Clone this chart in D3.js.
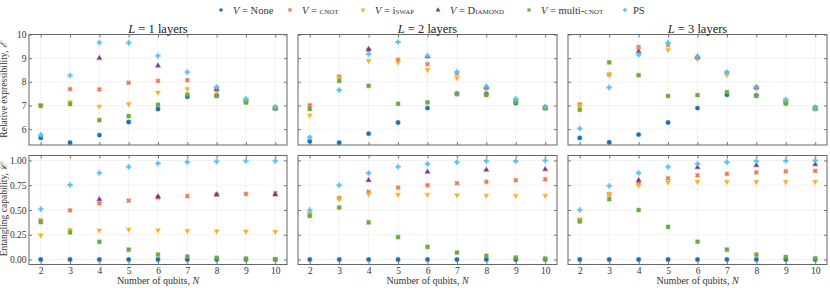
<!DOCTYPE html>
<html>
<head>
<meta charset="utf-8">
<script src="https://cdn.jsdelivr.net/npm/d3@7"></script>
<style>
  body { margin: 0; background: #fff; }
  svg  { font-family: 'Liberation Serif', 'DejaVu Serif', serif; }
  .tick text { font-size: 9.5px; fill: #333; }
  .sc { font-variant: small-caps; }
</style>
</head>
<body>
<svg id="chart" width="830" height="288"></svg>
<script>
// Number of qubits on the x axis.
const qubits = [ 2, 3, 4, 5, 6, 7, 8, 9, 10 ];
const layers = [ 1, 2, 3 ];

// Series keys, in drawing order.
const seriesKeys = [ 'none', 'cnot', 'iswap', 'diamond', 'mcnot', 'ps' ];

// Relative expressibility, one array per layer count.
const exprNone    = [ [ 5.63, 5.43, 5.75, 6.30, 6.85, 7.37, 7.42, 7.15, 6.88 ],
                      [ 5.49, 5.43, 5.81, 6.28, 6.89, 7.50, 7.49, 7.10, 6.90 ],
                      [ 5.63, 5.45, 5.77, 6.28, 6.89, 7.45, 7.42, 7.12, 6.88 ] ];
const exprCnot    = [ [ 7.00, 7.69, 7.68, 7.96, 8.04, 8.07, 7.72, 7.20, 6.90 ],
                      [ 7.01, 8.22, 9.35, 8.93, 8.75, 8.35, 7.75, 7.20, 6.92 ],
                      [ 7.04, 8.31, 9.47, 9.56, 9.02, 8.37, 7.75, 7.20, 6.90 ] ];
const exprIswap   = [ [ 7.00, 7.15, 6.96, 7.06, 7.55, 7.70, 7.58, 7.18, 6.90 ],
                      [ 6.58, 8.17, 8.89, 8.82, 8.51, 8.16, 7.68, 7.18, 6.90 ],
                      [ 6.99, 8.31, 9.40, 9.35, 8.97, 8.30, 7.74, 7.18, 6.89 ] ];
const exprDiamond = [ [ null, null, 9.00, null, 8.68, null, 7.69, null, 6.90 ],
                      [ null, null, 9.38, null, 9.07, null, 7.77, null, 6.92 ],
                      [ null, null, 9.28, null, 9.05, null, 7.76, null, 6.90 ] ];
const exprMcnot   = [ [ 6.99, 7.06, 6.38, 6.55, 7.03, 7.46, 7.40, 7.13, 6.87 ],
                      [ 6.85, 8.04, 7.83, 7.07, 7.13, 7.48, 7.44, 7.14, 6.88 ],
                      [ 6.82, 8.82, 8.28, 7.40, 7.44, 7.56, 7.41, 7.08, 6.85 ] ];
const exprPs      = [ [ 5.76, 8.27, 9.66, 9.65, 9.10, 8.41, 7.78, 7.28, 6.93 ],
                      [ 5.65, 7.65, 9.17, 9.68, 9.09, 8.42, 7.79, 7.28, 6.93 ],
                      [ 6.03, 7.76, 9.15, 9.66, 9.06, 8.41, 7.76, 7.25, 6.90 ] ];

// Entangling capability, one array per layer count.
const entNone     = [ [ 0, 0, 0, 0, 0, 0, 0, 0, 0 ],
                      [ 0, 0, 0, 0, 0, 0, 0, 0, 0 ],
                      [ 0, 0, 0, 0, 0, 0, 0, 0, 0 ] ];
const entCnot     = [ [ 0.395, 0.497, 0.568, 0.595, 0.625, 0.640, 0.655, 0.662, 0.670 ],
                      [ 0.450, 0.620, 0.682, 0.726, 0.750, 0.770, 0.784, 0.800, 0.810 ],
                      [ 0.400, 0.660, 0.770, 0.820, 0.850, 0.865, 0.880, 0.890, 0.895 ] ];
const entIswap    = [ [ 0.246, 0.300, 0.294, 0.304, 0.297, 0.290, 0.287, 0.284, 0.280 ],
                      [ 0.467, 0.610, 0.660, 0.655, 0.655, 0.650, 0.645, 0.645, 0.645 ],
                      [ 0.405, 0.660, 0.750, 0.780, 0.785, 0.785, 0.785, 0.785, 0.785 ] ];
const entDiamond  = [ [ null, null, 0.608, null, 0.635, null, 0.655, null, 0.655 ],
                      [ null, null, 0.801, null, 0.885, null, 0.905, null, 0.910 ],
                      [ null, null, 0.800, null, 0.930, null, 0.950, null, 0.960 ] ];
const entMcnot    = [ [ 0.378, 0.274, 0.179, 0.100, 0.050, 0.030, 0.017, 0.010, 0.003 ],
                      [ 0.440, 0.525, 0.375, 0.226, 0.128, 0.070, 0.037, 0.020, 0.010 ],
                      [ 0.385, 0.610, 0.500, 0.330, 0.180, 0.100, 0.050, 0.026, 0.013 ] ];
const entPs       = [ [ 0.510, 0.753, 0.875, 0.936, 0.970, 0.983, 0.990, 0.995, 0.995 ],
                      [ 0.500, 0.750, 0.872, 0.936, 0.966, 0.983, 0.993, 0.993, 1.000 ],
                      [ 0.500, 0.743, 0.875, 0.936, 0.966, 0.983, 0.993, 0.996, 1.000 ] ];

const exprTicks = [ 6, 7, 8, 9, 10 ];
const entTicks  = [ 0, 0.25, 0.5, 0.75, 1 ];

const exprData = { none: exprNone, cnot: exprCnot, iswap: exprIswap, diamond: exprDiamond, mcnot: exprMcnot, ps: exprPs };
const entData  = { none: entNone,  cnot: entCnot,  iswap: entIswap,  diamond: entDiamond,  mcnot: entMcnot,  ps: entPs  };

// Look of each series.
const colors = { none: '#1a70b8', cnot: '#ea7450', iswap: '#f4b222', diamond: '#7a3592', mcnot: '#6caa3c', ps: '#52c2f0' };
const shapes = {
  none   : { type: d3.symbolCircle,   rot: 0,   size: 15 },
  cnot   : { type: d3.symbolCross,    rot: 45,  size: 12 },
  iswap  : { type: d3.symbolTriangle, rot: 180, size: 11 },
  diamond: { type: d3.symbolTriangle, rot: 0,   size: 11 },
  mcnot  : { type: d3.symbolSquare,   rot: 0,   size: 15 },
  ps     : { type: d3.symbolCross,    rot: 0,   size: 13 }
};

const svg = d3.select( '#chart' );

// Panel frames.
const cols = [ [ 29, 287 ], [ 298, 557 ], [ 568, 827 ] ];
const rows = [ { y: [ 34.5, 145 ], domain: [ 5.33, 10 ], data: exprData, ticks: exprTicks, fmt: d3.format( 'd' ) },
               { y: [ 155.5, 264.5 ], domain: [ -0.05, 1.05 ], data: entData, ticks: entTicks, fmt: d3.format( '.2f' ) } ];

const x = cols.map( c => d3.scaleLinear( ).domain( [ 1.6, 10.4 ] ).range( c ) );

rows.forEach( ( row, ri ) => {
  const y = d3.scaleLinear( ).domain( row.domain ).range( [ row.y[1], row.y[0] ] );

  layers.forEach( ( L, li ) => {
    const g = svg.append( 'g' );
    const xs = x[li];

    // Grid.
    g.selectAll( '.gx' ).data( qubits ).enter( ).append( 'line' )
      .attr( 'x1', d => xs( d ) ).attr( 'x2', d => xs( d ) )
      .attr( 'y1', row.y[0] ).attr( 'y2', row.y[1] )
      .attr( 'stroke', '#ededed' ).attr( 'stroke-width', 0.7 );
    g.selectAll( '.gy' ).data( row.ticks ).enter( ).append( 'line' )
      .attr( 'y1', d => y( d ) ).attr( 'y2', d => y( d ) )
      .attr( 'x1', cols[li][0] ).attr( 'x2', cols[li][1] )
      .attr( 'stroke', '#ededed' ).attr( 'stroke-width', 0.7 );

    // Axes, ticks pointing in on every side.
    const bottom = d3.axisBottom( xs ).tickValues( qubits ).tickSize( -3 ).tickPadding( 3 );
    const top    = d3.axisTop( xs ).tickValues( qubits ).tickSize( -3 ).tickFormat( '' );
    const left   = d3.axisLeft( y ).tickValues( row.ticks ).tickSize( -3 ).tickPadding( 2.5 ).tickFormat( row.fmt );
    const right  = d3.axisRight( y ).tickValues( row.ticks ).tickSize( -3 ).tickFormat( '' );
    if ( ri === 0 ) bottom.tickFormat( '' );
    if ( li > 0 ) left.tickFormat( '' );

    [ [ bottom, `translate(0,${row.y[1]})` ], [ top, `translate(0,${row.y[0]})` ],
      [ left, `translate(${cols[li][0]},0)` ], [ right, `translate(${cols[li][1]},0)` ] ]
      .forEach( ( [ ax, tr ] ) => {
        const a = g.append( 'g' ).attr( 'transform', tr ).call( ax )
          .attr( 'font-family', null ).attr( 'font-size', null );
        a.select( '.domain' ).remove( );
        a.selectAll( '.tick line' ).attr( 'stroke', '#555' ).attr( 'stroke-width', 0.8 );
      } );

    // Markers.
    seriesKeys.forEach( k => {
      const pts = qubits.map( ( n, i ) => ( { n, v: row.data[k][li][i] } ) ).filter( d => d.v !== null );
      g.selectAll( null ).data( pts ).enter( ).append( 'path' )
        .attr( 'd', d3.symbol( ).type( shapes[k].type ).size( shapes[k].size ) )
        .attr( 'transform', d => `translate(${xs( d.n )},${y( d.v )}) rotate(${shapes[k].rot})` )
        .attr( 'fill', colors[k] )
        .attr( 'stroke', colors[k] ).attr( 'stroke-opacity', 0.3 ).attr( 'stroke-width', 1.2 );
    } );

    // Frame.
    g.append( 'rect' )
      .attr( 'x', cols[li][0] ).attr( 'y', row.y[0] )
      .attr( 'width', cols[li][1] - cols[li][0] ).attr( 'height', row.y[1] - row.y[0] )
      .attr( 'fill', 'none' ).attr( 'stroke', '#666' ).attr( 'stroke-width', 1 );

    // Panel titles and x labels.
    const cx = ( cols[li][0] + cols[li][1] ) / 2;
    if ( ri === 0 ) {
      const t = g.append( 'text' ).attr( 'x', cx ).attr( 'y', 32.5 ).attr( 'text-anchor', 'middle' )
        .attr( 'font-size', 12.5 ).attr( 'fill', '#222' );
      t.append( 'tspan' ).attr( 'font-style', 'italic' ).text( 'L' );
      t.append( 'tspan' ).text( ` = ${L} layers` );
    } else {
      const t = g.append( 'text' ).attr( 'x', cx ).attr( 'y', 284 ).attr( 'text-anchor', 'middle' )
        .attr( 'font-size', 10 ).attr( 'fill', '#333' );
      t.append( 'tspan' ).text( 'Number of qubits, ' );
      t.append( 'tspan' ).attr( 'font-style', 'italic' ).text( 'N' );
    }
  } );
} );

// Y labels.
[ [ 'Relative expressibility, ', 'ℰ', 90 ], [ 'Entangling capability, ', '𝒞', 210 ] ].forEach( ( [ s, sym, cy ] ) => {
  const t = svg.append( 'text' ).attr( 'transform', `translate(7,${cy}) rotate(-90)` )
    .attr( 'text-anchor', 'middle' ).attr( 'font-size', 9.5 ).attr( 'fill', '#333' );
  t.append( 'tspan' ).text( s );
  t.append( 'tspan' ).attr( 'font-style', 'italic' ).text( sym );
} );

// Legend.
const legendItems = [
  { k: 'none',    mx: 221, parts: [ [ 'i', 'V' ], [ 'n', ' = None' ] ] },
  { k: 'cnot',    mx: 290, parts: [ [ 'i', 'V' ], [ 'n', ' = ' ], [ 's', 'cnot' ] ] },
  { k: 'iswap',   mx: 363, parts: [ [ 'i', 'V' ], [ 'n', ' = i' ], [ 's', 'swap' ] ] },
  { k: 'diamond', mx: 438, parts: [ [ 'i', 'V' ], [ 'n', ' = D' ], [ 's', 'iamond' ] ] },
  { k: 'mcnot',   mx: 529, parts: [ [ 'i', 'V' ], [ 'n', ' = multi-' ], [ 's', 'cnot' ] ] },
  { k: 'ps',      mx: 625, parts: [ [ 'n', 'PS' ] ] }
];
legendItems.forEach( d => {
  svg.append( 'path' )
    .attr( 'd', d3.symbol( ).type( shapes[d.k].type ).size( 10 ) )
    .attr( 'transform', `translate(${d.mx},10) rotate(${shapes[d.k].rot})` )
    .attr( 'fill', colors[d.k] );
  const t = svg.append( 'text' ).attr( 'x', d.mx + ( d.k === 'ps' ? 8 : 12 ) ).attr( 'y', 13.5 )
    .attr( 'font-size', 10.5 ).attr( 'fill', '#333' );
  d.parts.forEach( ( [ st, s ] ) => {
    const sp = t.append( 'tspan' ).text( s );
    if ( st === 'i' ) sp.attr( 'font-style', 'italic' );
    if ( st === 's' ) sp.attr( 'class', 'sc' );
  } );
} );
</script>
</body>
</html>
